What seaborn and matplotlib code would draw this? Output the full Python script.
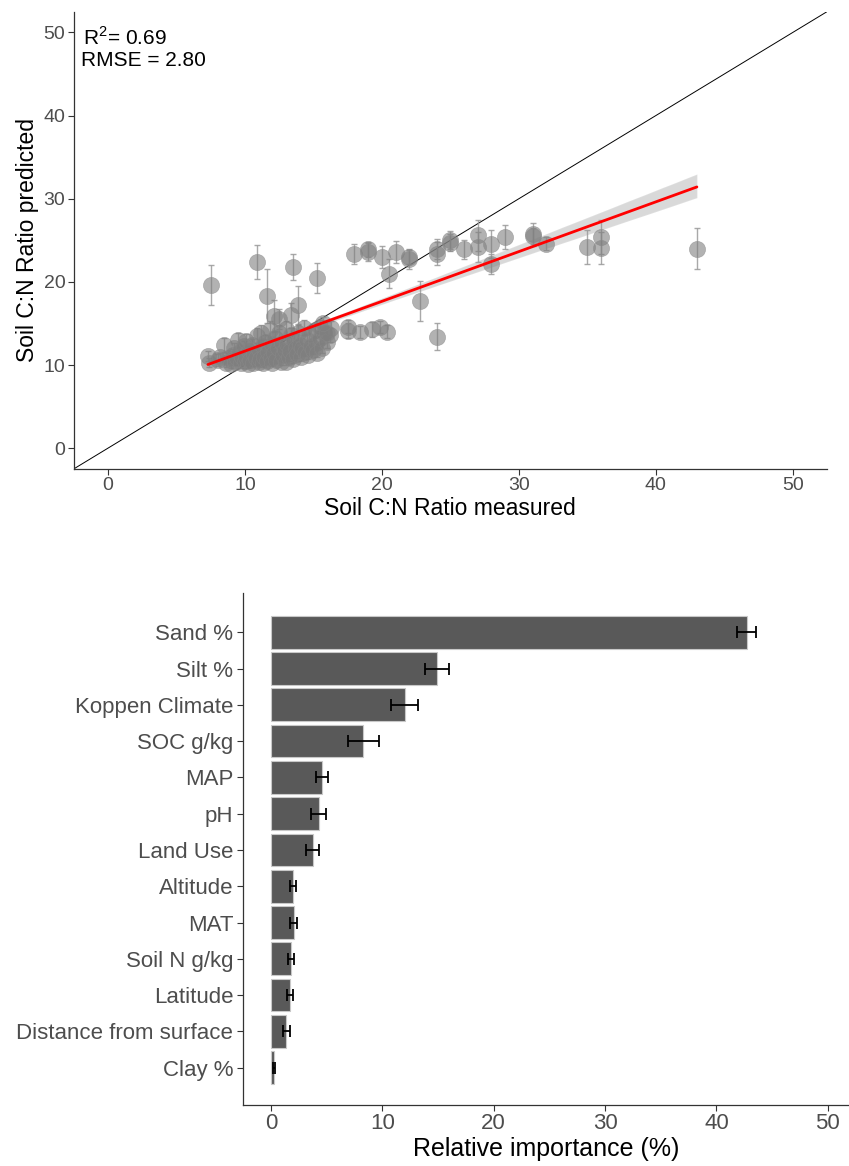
import numpy as np
import pandas as pd
import matplotlib
matplotlib.use("Agg")
import matplotlib.pyplot as plt
import seaborn as sns

# ---------------- data: predicted vs measured soil C:N ----------------
# dense cluster of low C:N samples
cluster_measured = [7.3, 7.4, 8.0, 8.2, 8.5, 8.6, 8.8,
                    9.0, 9.1, 9.2, 9.3, 9.4, 9.5, 9.6, 9.7, 9.8, 9.9, 10.0,
                    10.1, 10.1, 10.2, 10.3, 10.4, 10.5, 10.6, 10.7, 10.8, 10.9, 11.0, 11.0,
                    11.1, 11.2, 11.3, 11.3, 11.4, 11.5, 11.6, 11.7, 11.8, 11.9, 12.0, 12.0,
                    12.1, 12.2, 12.3, 12.4, 12.5, 12.6, 12.7, 12.8, 12.9, 13.0,
                    13.0, 13.1, 13.2, 13.3, 13.4, 13.5, 13.6, 13.7, 13.8, 13.9,
                    14.0, 14.1, 14.2, 14.3, 14.4, 14.5, 14.6, 14.7, 14.8, 15.0,
                    15.1, 15.2, 15.3, 15.5, 15.6, 15.8, 16.0, 16.2]
cluster_predicted = [11.1, 10.3, 10.6, 11.0, 12.4, 10.2, 10.9,
                     10.1, 11.2, 12.1, 10.4, 10.8, 13.0, 11.6, 10.2, 11.0, 12.3, 10.5,
                     12.9, 11.0, 10.1, 11.7, 10.6, 12.4, 10.3, 11.3, 10.8, 13.5, 10.4, 11.9,
                     10.7, 13.8, 10.2, 12.3, 11.0, 12.8, 10.5, 11.6, 14.2, 10.9, 12.5, 10.3,
                     11.4, 13.3, 10.6, 12.0, 13.9, 10.4, 12.7, 11.2, 11.8, 14.3,
                     10.4, 12.5, 11.0, 11.7, 13.6, 10.7, 13.0, 12.0, 11.3, 13.9,
                     12.4, 11.0, 12.1, 14.5, 11.6, 13.0, 11.2, 13.7, 12.3, 11.8,
                     14.2, 12.7, 11.5, 13.3, 12.1, 13.8, 12.8, 13.6]
cluster_sd = [0.6, 0.5, 0.7, 0.5, 0.8, 0.4, 0.6,
              0.5, 0.7, 0.6, 0.4, 0.5, 0.9, 0.6, 0.5, 0.7, 0.6, 0.4,
              0.8, 0.5, 0.4, 0.6, 0.5, 0.7, 0.4, 0.6, 0.5, 0.9, 0.4, 0.6,
              0.5, 1.0, 0.4, 0.7, 0.5, 0.8, 0.4, 0.6, 1.1, 0.5, 0.7, 0.4,
              0.5, 0.8, 0.4, 0.6, 0.9, 0.4, 0.7, 0.5, 0.6, 1.0,
              0.4, 0.7, 0.5, 0.6, 0.8, 0.4, 0.7, 0.6, 0.5, 0.9,
              0.6, 0.5, 0.6, 0.9, 0.5, 0.7, 0.5, 0.8, 0.6, 0.5,
              0.9, 0.7, 0.5, 0.8, 0.6, 0.8, 0.7, 0.8]

# remaining samples (higher ratios / larger prediction spread)
other_measured = [7.5, 10.9, 13.5, 15.3, 11.6, 13.9, 12.1, 13.4, 12.5,
                  18.0, 19.0, 19.0, 20.0, 21.0, 22.0, 22.0, 24.0, 24.0, 25.0, 25.0, 20.5, 22.8, 24.0,
                  15.5, 16.3, 17.5, 18.4, 19.3, 19.9, 20.4, 16.0, 17.5, 15.7,
                  26.0, 27.0, 27.0, 28.0, 28.0, 29.0, 31.0, 31.0, 32.0, 35.0, 36.0, 36.0, 43.0]
other_predicted = [19.6, 22.4, 21.8, 20.5, 18.3, 17.2, 15.9, 16.0, 15.5,
                   23.4, 23.6, 23.9, 23.0, 23.6, 23.0, 22.7, 23.4, 24.0, 25.0, 24.7, 21.0, 17.7, 13.4,
                   14.6, 14.4, 14.6, 14.0, 14.3, 14.6, 14.0, 13.9, 14.1, 15.0,
                   23.9, 25.6, 24.2, 24.6, 22.1, 25.4, 25.7, 25.5, 24.6, 24.2, 25.4, 24.1, 24.0]
other_sd = [2.4, 2.0, 1.6, 1.8, 3.2, 2.3, 1.9, 1.5, 1.2,
            1.2, 1.1, 0.9, 1.3, 1.3, 0.9, 1.1, 1.4, 1.2, 1.1, 1.0, 1.7, 2.4, 1.6,
            0.8, 0.9, 0.8, 0.7, 0.9, 0.7, 0.8, 0.7, 0.9, 0.8,
            1.1, 1.9, 1.8, 1.7, 1.2, 1.4, 1.4, 1.0, 0.8, 2.0, 2.0, 1.9, 2.5]

r2_text = "R$^2$= 0.69"
rmse_text = "RMSE = 2.80"

# ---------------- data: variable importance ----------------
variables = ["Sand %", "Silt %", "Koppen Climate", "SOC g/kg", "MAP", "pH",
             "Land Use", "Altitude", "MAT", "Soil N g/kg", "Latitude",
             "Distance from surface", "Clay %"]
importance = [42.7, 14.9, 12.0, 8.3, 4.6, 4.3, 3.75, 2.0, 2.05, 1.8, 1.7, 1.4, 0.3]
importance_sd = [0.85, 1.1, 1.2, 1.4, 0.55, 0.65, 0.6, 0.25, 0.3, 0.25, 0.25, 0.35, 0.1]

# ---------------- figure ----------------
sns.set_theme(style="ticks")
plt.rcParams["font.family"] = ["Liberation Sans", "DejaVu Sans"]
plt.rcParams["mathtext.fontset"] = "custom"
plt.rcParams["mathtext.rm"] = "Liberation Sans"

fig = plt.figure(figsize=(8.49, 11.66), dpi=100)
ax1 = fig.add_axes([0.0868, 0.5978, 0.8873, 0.3922])
ax2 = fig.add_axes([0.2862, 0.0523, 0.7138, 0.4391])

tick_grey = "#4d4d4d"

# --- top panel: scatter with error bars and linear fit ---
pts = pd.DataFrame({
    "measured": cluster_measured + other_measured,
    "predicted": cluster_predicted + other_predicted,
    "sd": cluster_sd + other_sd,
})

ax1.axline((0, 0), slope=1, color="black", lw=0.7, zorder=1)
ax1.errorbar(pts["measured"], pts["predicted"], yerr=pts["sd"], fmt="none",
             ecolor="#9a9a9a", elinewidth=1.0, capsize=2.0, capthick=1.0,
             alpha=0.85, zorder=2)
sns.scatterplot(data=pts, x="measured", y="predicted", ax=ax1, s=135,
                color="#7f7f7f", alpha=0.6, edgecolor="#8a8a8a",
                linewidth=0.5, zorder=3)
# grey confidence band of the linear fit
sns.regplot(data=pts, x="measured", y="predicted", ax=ax1, scatter=False,
            color="black", ci=68, n_boot=1000, seed=3,
            line_kws={"lw": 0, "zorder": 4})
# fitted line on top
sns.regplot(data=pts, x="measured", y="predicted", ax=ax1, scatter=False,
            ci=None, line_kws={"color": "#ff0000", "lw": 2.0, "zorder": 5})

ax1.set_xlim(-2.5, 52.5)
ax1.set_ylim(-2.5, 52.5)
ax1.set_xticks([0, 10, 20, 30, 40, 50])
ax1.set_yticks([0, 10, 20, 30, 40, 50])
ax1.set_xlabel("Soil C:N Ratio measured", fontsize=16.5, color="black", labelpad=2)
ax1.set_ylabel("Soil C:N Ratio predicted", fontsize=16.5, color="black", labelpad=3)
ax1.tick_params(axis="both", labelsize=14, labelcolor=tick_grey, color="#333333",
                length=4, width=0.8, pad=2)
ax1.text(-1.85, 48.5, r2_text, fontsize=15, color="black", va="baseline", ha="left")
ax1.text(-1.95, 46.0, rmse_text, fontsize=15, color="black", va="baseline", ha="left")
for side in ["top", "right"]:
    ax1.spines[side].set_visible(False)
for side in ["left", "bottom"]:
    ax1.spines[side].set_linewidth(0.9)
    ax1.spines[side].set_color("#333333")

# --- bottom panel: relative importance ---
imp = pd.DataFrame({"variable": variables, "importance": importance,
                    "sd": importance_sd})
sns.barplot(data=imp, x="importance", y="variable", orient="h", ax=ax2,
            color="#595959", saturation=1, width=0.9,
            edgecolor="#c8c8c8", linewidth=0.8, errorbar=None)
ax2.errorbar(imp["importance"], np.arange(len(imp)), xerr=imp["sd"],
             fmt="none", ecolor="black", elinewidth=1.3, capsize=4,
             capthick=1.3, zorder=4)

ax2.set_xlim(-2.5, 51.9)
ax2.set_ylim(len(imp) - 1 + 1.03, -1.08)
ax2.set_xticks([0, 10, 20, 30, 40, 50])
ax2.set_xlabel("Relative importance (%)", fontsize=18, color="black", labelpad=2)
ax2.set_ylabel("")
ax2.tick_params(axis="y", labelsize=16, labelcolor=tick_grey, color="#333333",
                length=4, width=0.8, pad=3)
ax2.tick_params(axis="x", labelsize=16, labelcolor=tick_grey, color="#333333",
                length=4, width=0.8, pad=2)
for side in ["top", "right"]:
    ax2.spines[side].set_visible(False)
for side in ["left", "bottom"]:
    ax2.spines[side].set_linewidth(0.9)
    ax2.spines[side].set_color("#333333")

fig.savefig("out.png", dpi=100)
